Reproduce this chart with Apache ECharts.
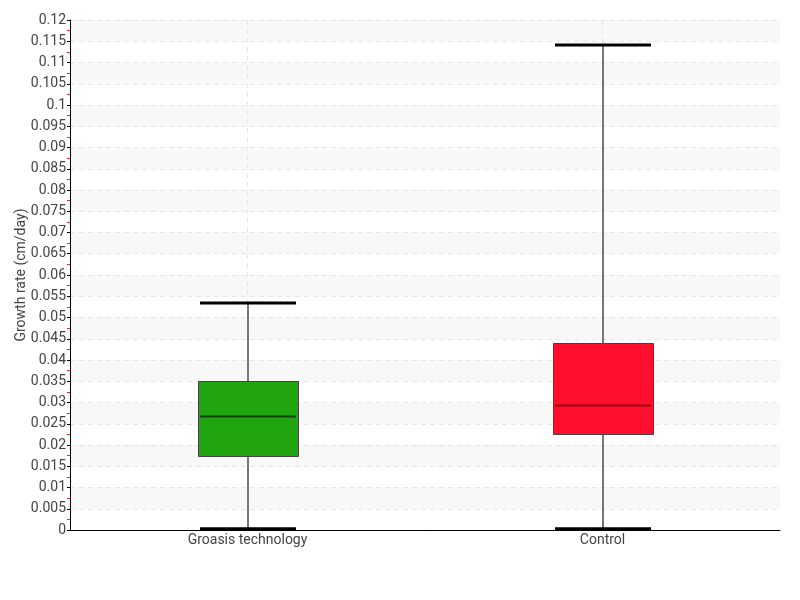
<!DOCTYPE html>
<html><head><meta charset="utf-8">
<script src="https://cdn.jsdelivr.net/npm/echarts@6/dist/echarts.min.js"></script>
<style>html,body{margin:0;padding:0;background:#fff}#c{width:800px;height:600px}</style>
</head><body><div id="c"></div>
<script>
const categories = ['Groasis technology', 'Control'];
const whiskerLow = [0.0003, 0.0003];
const q1 = [0.0175, 0.0226];
const median = [0.0268, 0.0295];
const q3 = [0.0351, 0.0439];
const whiskerHigh = [0.0534, 0.1141];
const boxColors = ['#21a50f', '#ff0f2b'];
const medianColors = ['#153f0c', '#8c0615'];
const yTicks = {min: 0, max: 0.12, interval: 0.005};

const FONT = 'Roboto, sans-serif';
const data = categories.map((c, i) => [i, whiskerLow[i], q1[i], median[i], q3[i], whiskerHigh[i]]);

const chart = echarts.init(document.getElementById('c'));
chart.setOption({
  animation: false,
  grid: {left: 70, right: 20, top: 20, bottom: 70},
  xAxis: {
    type: 'category', data: categories,
    axisLine: {lineStyle: {color: '#000', width: 1}},
    axisTick: {show: false},
    axisLabel: {color: '#444', fontFamily: FONT, fontSize: 14, margin: 3},
    splitLine: {show: true, alignWithLabel: true, lineStyle: {type: [5, 4], color: '#e6e6e6'}}
  },
  yAxis: {
    type: 'value', min: yTicks.min, max: yTicks.max, interval: yTicks.interval,
    name: 'Growth rate (cm/day)', nameLocation: 'middle', nameGap: 42, nameMoveOverlap: false,
    nameTextStyle: {color: '#444', fontFamily: FONT, fontSize: 14},
    axisLine: {show: true, lineStyle: {color: '#000', width: 1}},
    axisTick: {show: true, length: 3, lineStyle: {color: '#000'}},
    minorTick: {show: true, splitNumber: 2, length: 3, lineStyle: {color: '#ff2020', width: 1}},
    axisLabel: {color: '#444', fontFamily: FONT, fontSize: 14, margin: 4},
    splitLine: {show: true, lineStyle: {type: [5, 4], color: '#e6e6e6'}},
    splitArea: {show: true, areaStyle: {color: ['rgba(255,255,255,0)', '#f8f8f8']}}
  },
  series: [{
    type: 'custom',
    data: data,
    encode: {x: 0, y: [1, 2, 3, 4, 5]},
    renderItem: function (params, api) {
      const i = api.value(0);
      const band = api.size([1, 0])[0];
      const bw = band * 100 / 355;
      const cw = band * 96 / 355;
      const pLo = api.coord([i, api.value(1)]);
      const pQ1 = api.coord([i, api.value(2)]);
      const pMed = api.coord([i, api.value(3)]);
      const pQ3 = api.coord([i, api.value(4)]);
      const pHi = api.coord([i, api.value(5)]);
      const cx = Math.round(pLo[0]);
      return {
        type: 'group',
        children: [
          {type: 'line', shape: {x1: cx, y1: pHi[1], x2: cx, y2: pLo[1]}, style: {stroke: '#777', lineWidth: 2}},
          {type: 'rect', shape: {x: Math.round(cx - bw / 2) + 0.5, y: Math.round(pQ3[1]) + 0.5, width: Math.round(bw), height: Math.round(pQ1[1]) - Math.round(pQ3[1])},
            style: {fill: boxColors[i], stroke: '#444', lineWidth: 1}},
          {type: 'line', shape: {x1: cx - bw / 2 + 2, y1: Math.round(pMed[1]) + 0.5, x2: cx + bw / 2 - 2, y2: Math.round(pMed[1]) + 0.5}, style: {stroke: medianColors[i], lineWidth: 2}},
          {type: 'line', shape: {x1: cx - cw / 2, y1: pHi[1], x2: cx + cw / 2, y2: pHi[1]}, style: {stroke: '#000', lineWidth: 3}},
          {type: 'line', shape: {x1: cx - cw / 2, y1: pLo[1], x2: cx + cw / 2, y2: pLo[1]}, style: {stroke: '#000', lineWidth: 3}}
        ]
      };
    }
  }]
});
</script></body></html>
